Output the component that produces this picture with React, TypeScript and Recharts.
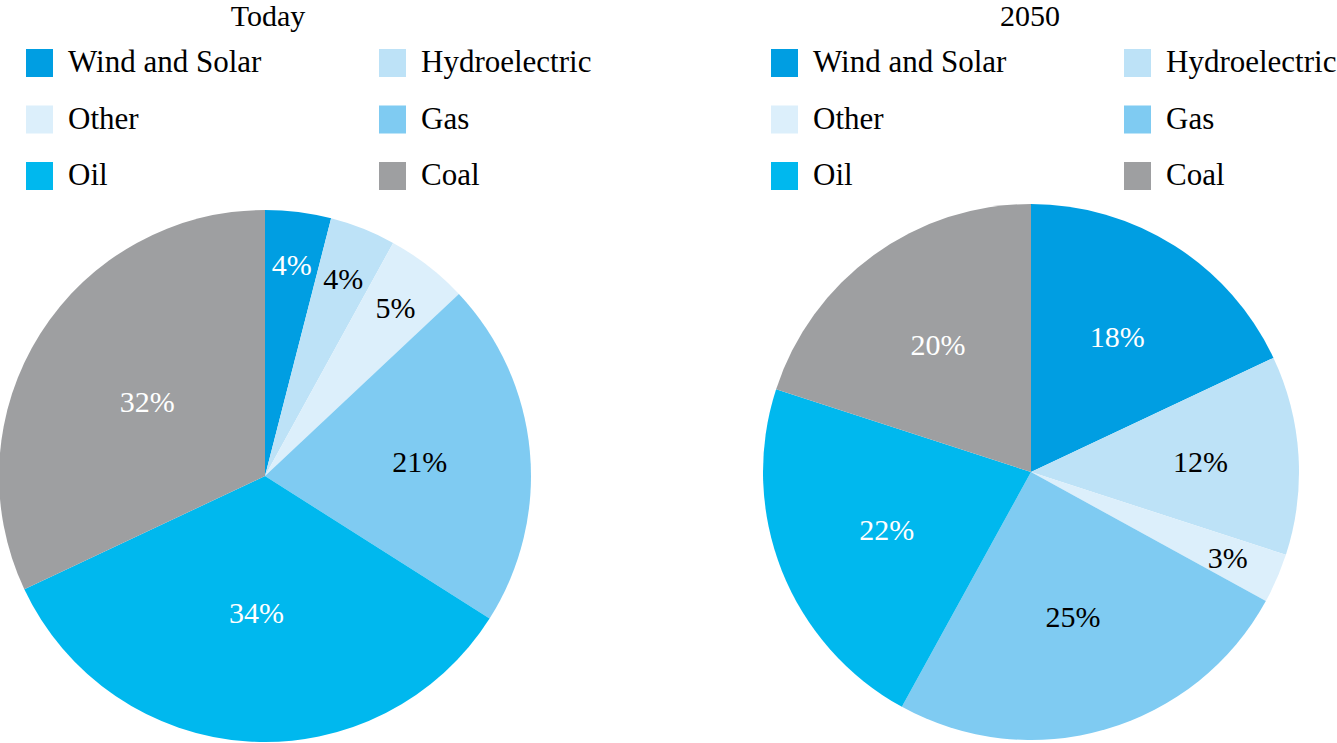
import { Cell, Pie, PieChart } from "recharts";

const CATEGORIES = ["Wind and Solar", "Hydroelectric", "Other", "Gas", "Oil", "Coal"];
const SHARES_TODAY = [4, 4, 5, 21, 34, 32];
const SHARES_2050 = [18, 12, 3, 25, 22, 20];
const TITLES = ["Today", "2050"];

const COLORS: Record<string, string> = {
  "Wind and Solar": "#009ee2",
  Hydroelectric: "#bde2f7",
  Other: "#dceffb",
  Gas: "#7fcbf2",
  Oil: "#00b8ee",
  Coal: "#9e9fa1",
};

const LABEL_COLORS: Record<string, string> = {
  "Wind and Solar": "#ffffff",
  Hydroelectric: "#000000",
  Other: "#000000",
  Gas: "#000000",
  Oil: "#ffffff",
  Coal: "#ffffff",
};

const FONT = "Liberation Serif, DejaVu Serif";
const RADIAN = Math.PI / 180;

const todayData = CATEGORIES.map((name, i) => ({ name, value: SHARES_TODAY[i] }));
const data2050 = CATEGORIES.map((name, i) => ({ name, value: SHARES_2050[i] }));

// small slices get their label pushed outward, big ones sit nearer the middle
function renderLabel(props: any) {
  const { cx, cy, midAngle, outerRadius, value, name } = props;
  const frac = value <= 5 ? 0.8 : 0.7 - value * 0.0055;
  const r = outerRadius * frac;
  const x = cx + r * Math.cos(-midAngle * RADIAN);
  const y = cy + r * Math.sin(-midAngle * RADIAN);
  return (
    <text
      x={x}
      y={y}
      textAnchor="middle"
      dominantBaseline="central"
      fill={LABEL_COLORS[name]}
      fontFamily={FONT}
      fontSize={30}
    >
      {`${value}%`}
    </text>
  );
}

function LegendBlock({ left }: { left: number }) {
  return (
    <g>
      {CATEGORIES.map((name, i) => {
        const col = i % 2;
        const row = Math.floor(i / 2);
        const x = left + col * 353;
        const top = 49 + row * 56.5;
        return (
          <g key={name}>
            <rect x={x} y={top} width={27} height={28} fill={COLORS[name]} />
            <text x={x + 42} y={top + 23} fill="#000" fontFamily={FONT} fontSize={31}>
              {name}
            </text>
          </g>
        );
      })}
    </g>
  );
}

export default function App() {
  return (
    <div style={{ position: "absolute", left: 0, top: 0, width: 1337, height: 743, background: "#fff" }}>
      <PieChart width={1337} height={743} margin={{ top: 0, right: 0, bottom: 0, left: 0 }}>
        <Pie
          data={todayData}
          dataKey="value"
          nameKey="name"
          cx={265}
          cy={476}
          outerRadius={266}
          startAngle={90}
          endAngle={-270}
          stroke="none"
          label={renderLabel}
          labelLine={false}
          isAnimationActive={false}
        >
          {todayData.map((d) => (
            <Cell key={d.name} fill={COLORS[d.name]} />
          ))}
        </Pie>
        <Pie
          data={data2050}
          dataKey="value"
          nameKey="name"
          cx={1031}
          cy={472}
          outerRadius={268}
          startAngle={90}
          endAngle={-270}
          stroke="none"
          label={renderLabel}
          labelLine={false}
          isAnimationActive={false}
        >
          {data2050.map((d) => (
            <Cell key={d.name} fill={COLORS[d.name]} />
          ))}
        </Pie>
      </PieChart>
      <svg width={1337} height={743} style={{ position: "absolute", left: 0, top: 0, pointerEvents: "none" }}>
        <text x={268} y={26} textAnchor="middle" fontFamily={FONT} fontSize={30}>
          {TITLES[0]}
        </text>
        <text x={1030} y={26} textAnchor="middle" fontFamily={FONT} fontSize={30}>
          {TITLES[1]}
        </text>
        <LegendBlock left={26} />
        <LegendBlock left={771} />
      </svg>
    </div>
  );
}
